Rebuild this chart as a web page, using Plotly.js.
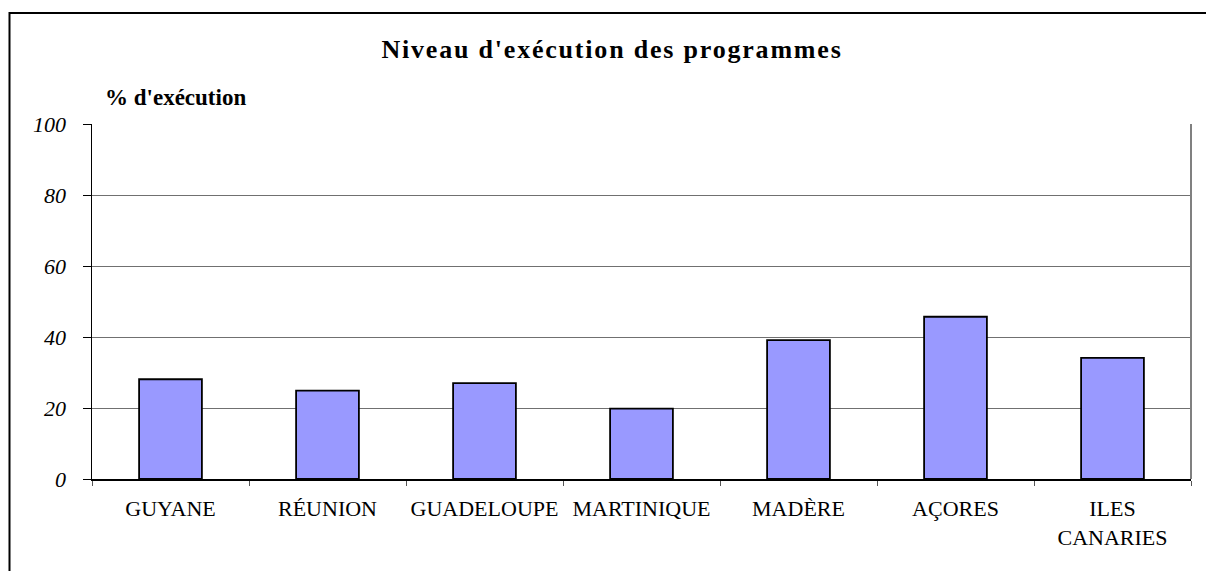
<!DOCTYPE html>
<html>
<head>
<meta charset="utf-8">
<script src="https://cdn.plot.ly/plotly-3.0.1.min.js"></script>
<style>
  html, body { margin: 0; padding: 0; background: #ffffff; }
  #chart { width: 1206px; height: 571px; }
  .gtitle { letter-spacing: 1.8px; }
</style>
</head>
<body>
<div id="chart"></div>
<script>
const categories = ["GUYANE", "RÉUNION", "GUADELOUPE", "MARTINIQUE", "MADÈRE", "AÇORES", "ILES<br>CANARIES"];
const executionPct = [28.1, 24.9, 27.0, 19.8, 39.1, 45.7, 34.1];
const yTickValues = [0, 20, 40, 60, 80, 100];
const yTickLabels = ["0", "20", "40", "60", "80", "100"];
const chartTitle = "Niveau d'exécution des programmes";
const yLabel = "% d'exécution";

const serif = "Liberation Serif";

const W = 1206, H = 571;
const mL = 92, mR = 15, mT = 124, mB = 92;
const pw = W - mL - mR, ph = H - mT - mB;
const px = v => (v - mL) / pw;
const py = v => (H - mB - v) / ph;

const trace = {
  type: "bar",
  x: categories,
  y: executionPct,
  marker: { color: "#9999ff", line: { color: "#000000", width: 1.8 } },
  hoverinfo: "x+y"
};

const layout = {
  width: W, height: H,
  margin: { l: mL, r: mR, t: mT, b: mB, pad: 0 },
  paper_bgcolor: "#ffffff",
  plot_bgcolor: "#ffffff",
  showlegend: false,
  bargap: 0.6,
  font: { family: serif, color: "#000000" },
  title: {
    text: chartTitle,
    font: { family: serif, size: 26, color: "#000000", weight: 700 },
    xref: "container", x: 612 / W, xanchor: "center",
    yref: "container", y: 1 - 49 / H, yanchor: "middle"
  },
  xaxis: {
    type: "category",
    showline: true, linecolor: "#000000", linewidth: 1.5,
    ticks: "outside", ticklen: 5, tickwidth: 1, tickcolor: "#555555",
    tickson: "boundaries",
    showgrid: false,
    tickfont: { family: serif, size: 22, color: "#000000" },
    ticklabelstandoff: 9,
    zeroline: false,
    fixedrange: true
  },
  yaxis: {
    range: [0, 100],
    tickvals: yTickValues,
    ticktext: yTickLabels,
    showline: true, linecolor: "#000000", linewidth: 1.5,
    ticks: "outside", ticklen: 8, tickwidth: 1, tickcolor: "#000000",
    showgrid: true, gridcolor: "#707070", gridwidth: 1,
    zeroline: false,
    tickfont: { family: serif, size: 22, color: "#000000", style: "italic" },
    ticklabelstandoff: 12,
    fixedrange: true
  },
  annotations: [{
    text: yLabel,
    xref: "paper", yref: "paper",
    x: px(103), y: py(97),
    xanchor: "left", yanchor: "middle",
    showarrow: false,
    font: { family: serif, size: 23, color: "#000000", weight: 700 }
  }],
  shapes: [
    { type: "line", xref: "paper", yref: "paper", x0: 1, x1: 1, y0: 0, y1: 1,
      line: { color: "#808080", width: 2 }, layer: "above" },
    { type: "rect", xref: "paper", yref: "paper",
      x0: px(9.5), x1: px(1215), y0: py(580), y1: py(13),
      line: { color: "#000000", width: 2 }, fillcolor: "rgba(0,0,0,0)", layer: "above" }
  ]
};

Plotly.newPlot("chart", [trace], layout, { displayModeBar: false, staticPlot: true });
</script>
</body>
</html>
